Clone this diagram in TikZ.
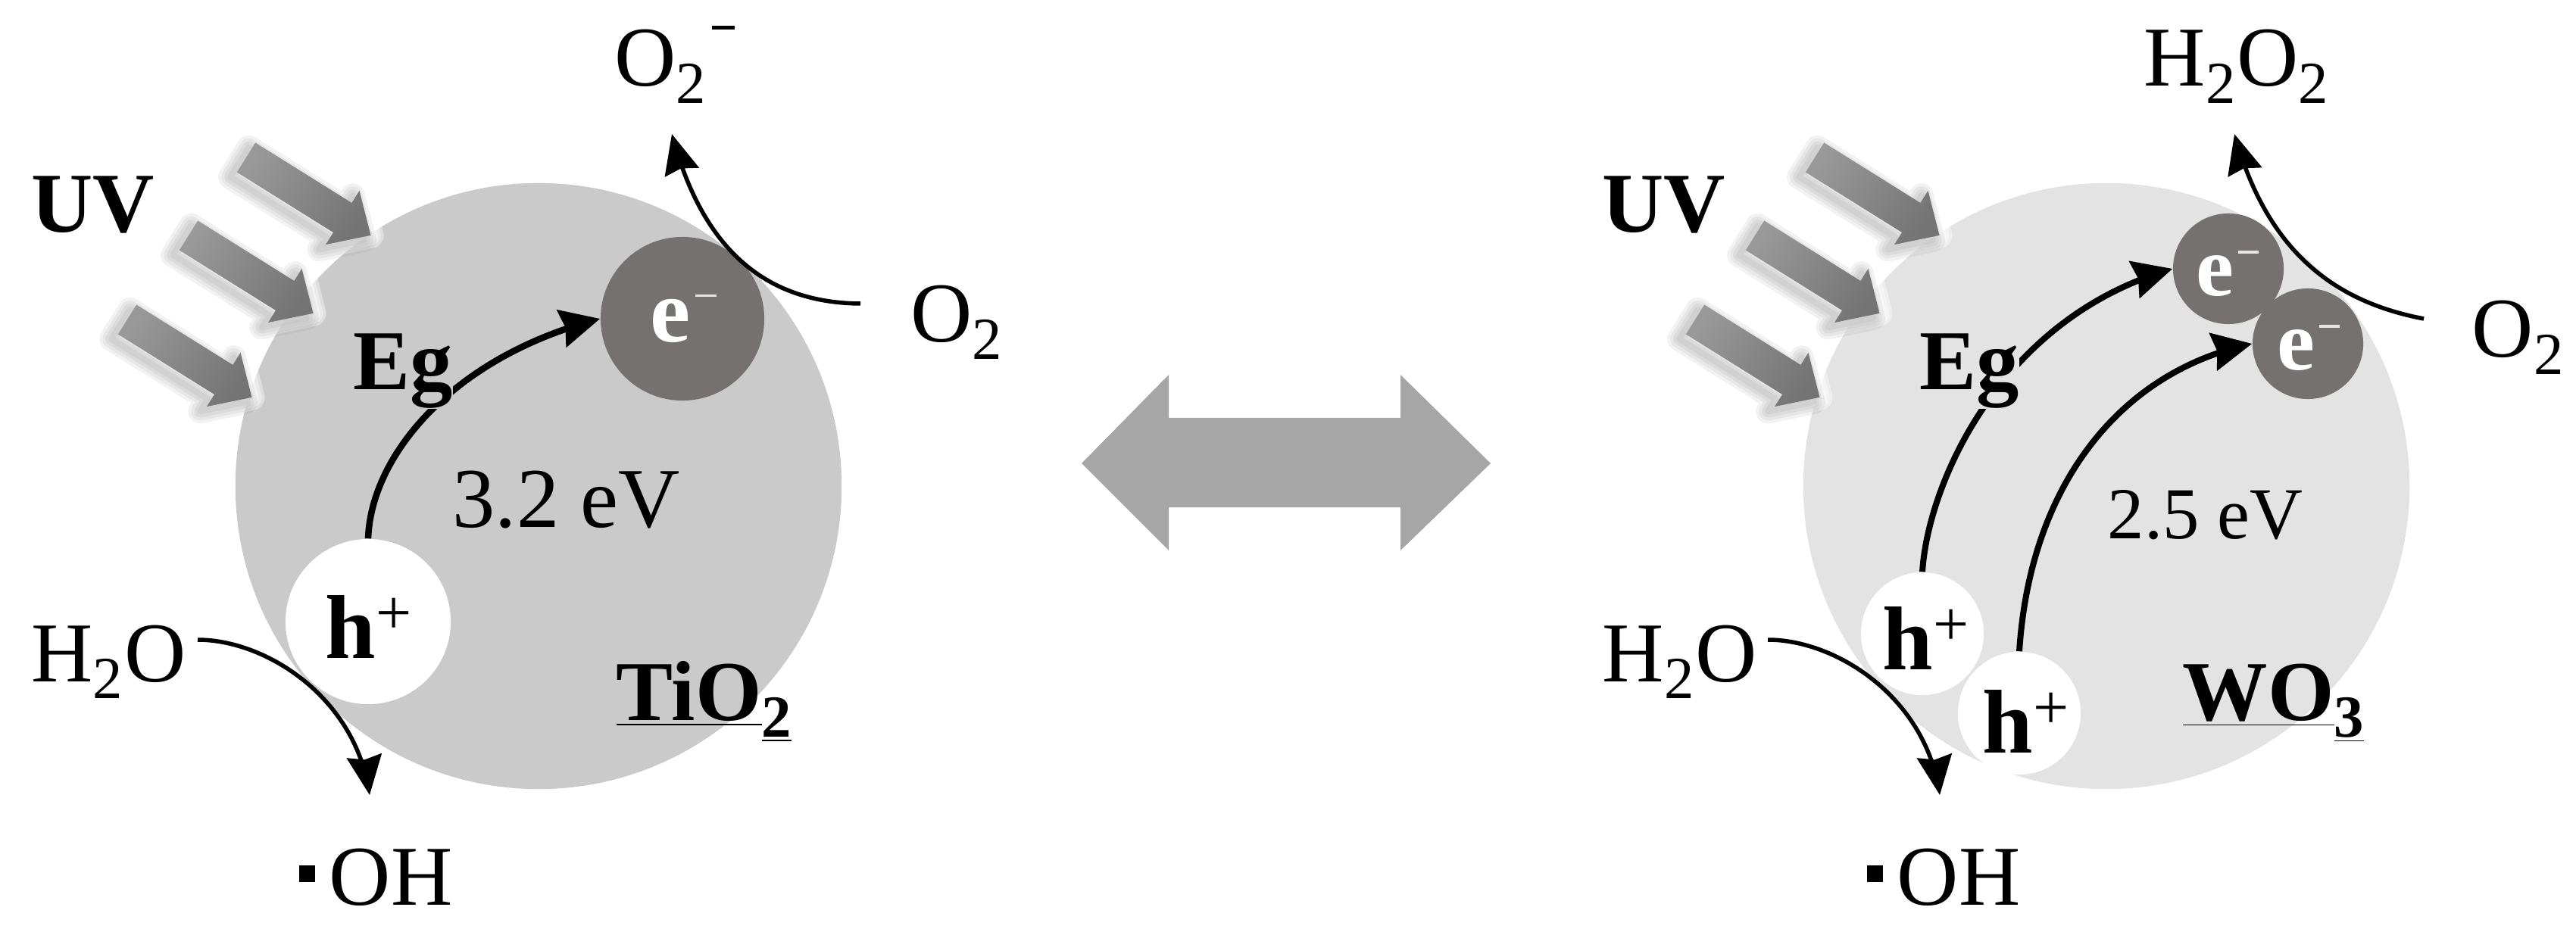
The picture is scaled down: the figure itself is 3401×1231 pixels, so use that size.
\documentclass[tikz,border=0pt]{standalone}
\usepackage{fontspec}
\setmainfont{Liberation Serif}
\usetikzlibrary{arrows.meta, bending}
\definecolor{tio-gray}{HTML}{CBCACA}
\definecolor{wo-gray}{HTML}{E3E3E3}
\definecolor{carrier-gray}{HTML}{767171}
\definecolor{band-gray}{HTML}{A6A6A6}
\tikzset{
  plain/.style={anchor=base west, inner sep=0pt, font=\fontsize{32}{36}\selectfont},
  bold/.style={plain, font=\fontsize{32}{36}\selectfont\bfseries},
  carrier/.style={circle, inner sep=0pt, minimum size=#1*0.02cm},
  elec/.style={carrier=#1, fill=carrier-gray},
  hole/.style={carrier=#1, fill=white},
  thin arrow/.style={-{Stealth[length=0.52cm,width=0.46cm,inset=0.05cm,flex=0]}, line width=0.055cm},
  thick arrow/.style={-{Stealth[length=0.52cm,width=0.5cm,inset=0.05cm,flex=0]}, line width=0.085cm},
  uvpath/.style={insert path={(0,-23) -- (150,-23) -- (150,-42) -- (194,0) -- (150,42) -- (150,23) -- (0,23) -- cycle}}
}
\newcommand{\hplus}{\textbf{h}\textsuperscript{+}}
\newcommand{\eminus}{\textcolor{white}{\textbf{e}\kern.05em\raisebox{.5em}{\color{white!80!gray}\rule{.24em}{.03em}}}}
\newcommand{\rdot}{\raisebox{.27em}{\rule{.19em}{.19em}}\,}
\begin{document}
\begin{tikzpicture}[x=0.01cm,y=-0.01cm]
  \useasboundingbox (0,0) rectangle (3401,1231);
  \node[circle, inner sep=0pt, minimum size=8cm, fill=tio-gray] (tio) at (711,642) {};
  \node[circle, inner sep=0pt, minimum size=8cm, fill=wo-gray] (wo) at (2781,642) {};

  % UV arrows
  \foreach \xa/\ya in {325/208, 249/311, 168/422, 2396/208, 2317/311, 2238/422} {
    \begin{scope}[shift={(\xa,\ya)}, rotate=-32]
      \foreach \w in {34,26,18,10}
        \path[draw=white, line width=\w*0.2845pt, line join=round, opacity=.4, uvpath];
      \foreach \w in {32,24,16,8}
        \path[draw=gray, line width=\w*0.2845pt, line join=round, opacity=.1, shift={(-4,10)}, uvpath];
      \path[left color=band-gray!92!black, right color=band-gray!70!black, shading angle=58, uvpath];
    \end{scope}
  }

  % double arrow in the middle
  \fill[band-gray] (1428,612) -- (1543,495) -- (1543,552) -- (1849,552) -- (1849,495) -- (1968,612)
    -- (1849,727) -- (1849,670) -- (1543,670) -- (1543,727) -- cycle;

  % TiO2
  \node[elec=108] (e) at (901,421) {};
  \node[hole=109] (h) at (486,821) {};
  \draw[thick arrow] (h.north) .. controls (490,600) and (600,470) .. (e.west);
  \coordinate (o2in) at (1136,401);
  \coordinate (o2out) at (887,177);
  \coordinate (wain) at (261,845);
  \coordinate (waout) at (488,1050);
  \draw[thin arrow] (o2in) .. controls (1020,400) and (930,340) .. (o2out);
  \draw[thin arrow] (wain) .. controls (350,845) and (470,920) .. (waout);
  \node[plain] (o2m) at (811,114) {O\textsubscript{2}\kern.05em\raisebox{.67em}{\rule{.27em}{.04em}}};
  \node[plain] (o2) at (1202,452) {O\textsubscript{2}};
  \node[plain] (wa) at (41,900) {H\textsubscript{2}O};
  \node[plain] (oh) at (394,1195) {\rdot OH};
  \node[bold] (uv) at (41,307) {UV};
  \node[bold, fill=tio-gray] (eg) at (466,515) {Eg};
  \node[plain] (gap) at (597,696) {3.2 eV};
  \node[bold] (name) at (813,951) {\underline{TiO}\textsubscript{\underline{2}}};
  \node[bold, font=\fontsize{34}{36}\selectfont] (hl) at (429,869) {\hplus};
  \node[bold, font=\fontsize{34}{36}\selectfont] (el) at (858,452) {\eminus};

  % WO3
  \node[elec=73] (ea) at (2942,355) {};
  \node[elec=73] (eb) at (3047,454) {};
  \node[hole=81] (ha) at (2538,837) {};
  \node[hole=81] (hb) at (2666,942) {};
  \draw[thick arrow, line width=0.08cm] (ha.north) .. controls (2545,640) and (2640,420) .. (ea.west);
  \draw[thick arrow, line width=0.08cm] (hb.north) .. controls (2680,640) and (2800,490) .. (eb.west);
  \coordinate (o2inb) at (3200,421);
  \coordinate (o2outb) at (2950,177);
  \coordinate (wainb) at (2334,845);
  \coordinate (waoutb) at (2561,1050);
  \draw[thin arrow] (o2inb) .. controls (3090,400) and (2995,340) .. (o2outb);
  \draw[thin arrow] (wainb) .. controls (2423,845) and (2543,920) .. (waoutb);
  \node[plain] (hp) at (2830,114) {H\textsubscript{2}O\textsubscript{2}};
  \node[plain] (o2b) at (3263,472) {O\textsubscript{2}};
  \node[plain] (wab) at (2115,900) {H\textsubscript{2}O};
  \node[plain] (ohb) at (2464,1195) {\rdot OH};
  \node[bold] (uvb) at (2115,307) {UV};
  \node[bold, fill=wo-gray] (egb) at (2534,515) {Eg};
  \node[plain, font=\fontsize{27.5}{30}\selectfont] (gapb) at (2782,711) {2.5 eV};
  \node[bold] (nameb) at (2881,951) {\underline{WO}\textsubscript{\underline{3}}};
  \node[bold, font=\fontsize{34}{36}\selectfont] (hla) at (2485,884) {\hplus};
  \node[bold, font=\fontsize{34}{36}\selectfont] (hlb) at (2617,994) {\hplus};
  \node[bold, font=\fontsize{32}{36}\selectfont] (ela) at (2899,391) {\eminus};
  \node[bold, font=\fontsize{32}{36}\selectfont] (elb) at (3006,489) {\eminus};
\end{tikzpicture}
\end{document}
